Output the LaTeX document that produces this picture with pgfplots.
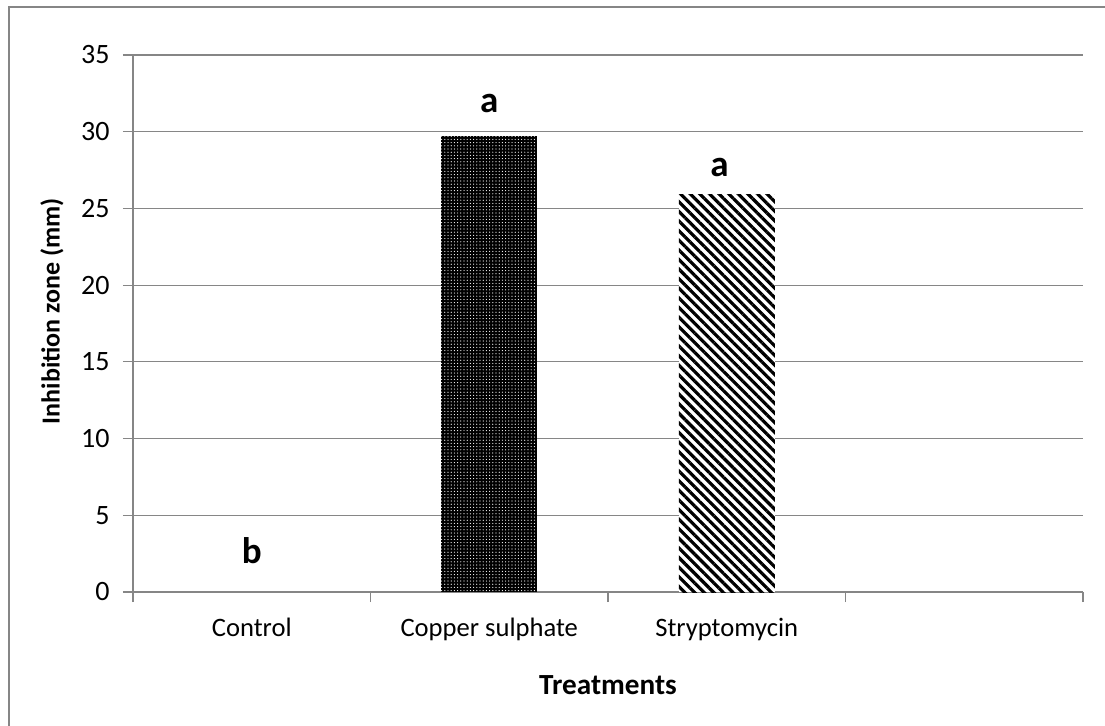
\documentclass[border=0pt]{standalone}
\usepackage{pgfplots}
\pgfplotsset{compat=1.18}
\usetikzlibrary{patterns.meta}
\usepackage{fontspec}
\setmainfont{Carlito}
\definecolor{axisgray}{RGB}{134,134,134}
\begin{document}
\begin{tikzpicture}
\useasboundingbox (-66.5pt,-66.5pt) rectangle (486pt,296pt);
% chart frame (only top and left edges fall inside the picture)
\draw[axisgray, line width=1pt] (-61.75pt,-80pt) -- (-61.75pt,292.5pt) -- (500pt,292.5pt);
\begin{axis}[
    at={(0,0)}, anchor=south west,
    scale only axis,
    width=475pt, height=268.5pt,
    xmin=-0.5, xmax=3.5,
    ymin=0, ymax=35,
    ytick={0,5,10,15,20,25,30,35},
    yticklabel={\fontsize{14}{16}\selectfont\pgfmathprintnumber[assume math mode=true]{\tick}},
    xtick={-0.5,0.5,1.5,2.5,3.5},
    xticklabels={},
    extra x ticks={0,1,2},
    extra x tick labels={Control,Copper sulphate,Stryptomycin},
    extra x tick style={major tick length=0pt, grid=none},
    axis x line*=bottom,
    axis y line*=left,
    xtick pos=bottom, ytick pos=left,
    x axis line style={axisgray, line width=0.6pt},
    y axis line style={axisgray, line width=0.6pt},
    tick align=outside,
    major tick length=5pt,
    tick style={axisgray, line width=0.6pt},
    ymajorgrids,
    grid style={axisgray, line width=0.6pt},
    tick label style={font=\fontsize{13.3}{15}\selectfont},
    xticklabel style={anchor=base, yshift=-22pt},
    yticklabel style={xshift=-3.2pt},
    xlabel={Treatments},
    ylabel={Inhibition zone (mm)},
    xlabel style={font=\bfseries\fontsize{14.6}{16}\selectfont, anchor=base,
        at={(axis description cs:0.5,-0.19)}},
    ylabel style={font=\bfseries\fontsize{13}{15}\selectfont, anchor=center,
        at={(axis description cs:-0.0853,0.523)}},
    ybar, bar width=48pt, bar shift=0pt,
]
\addplot[draw=none, fill=none] coordinates {(0,0)};
\addplot[draw=none, fill=black,
    postaction={pattern={Dots[distance=1.6pt,radius=0.3pt]}, pattern color=white}]
    coordinates {(1,29.7)};
\addplot[draw=none, fill=white,
    postaction={pattern={Lines[angle=-45,distance=3.4pt,line width=1.6pt]}, pattern color=black}]
    coordinates {(2,25.9)};
\node[font=\bfseries\fontsize{18.5}{20}\selectfont, anchor=base] at (axis cs:0,1.83) {b};
\node[font=\bfseries\fontsize{18.5}{20}\selectfont, anchor=base] at (axis cs:1,31.28) {a};
\node[font=\bfseries\fontsize{18.5}{20}\selectfont, anchor=base] at (axis cs:1.97,27.05) {a};
\end{axis}
\end{tikzpicture}
\end{document}
